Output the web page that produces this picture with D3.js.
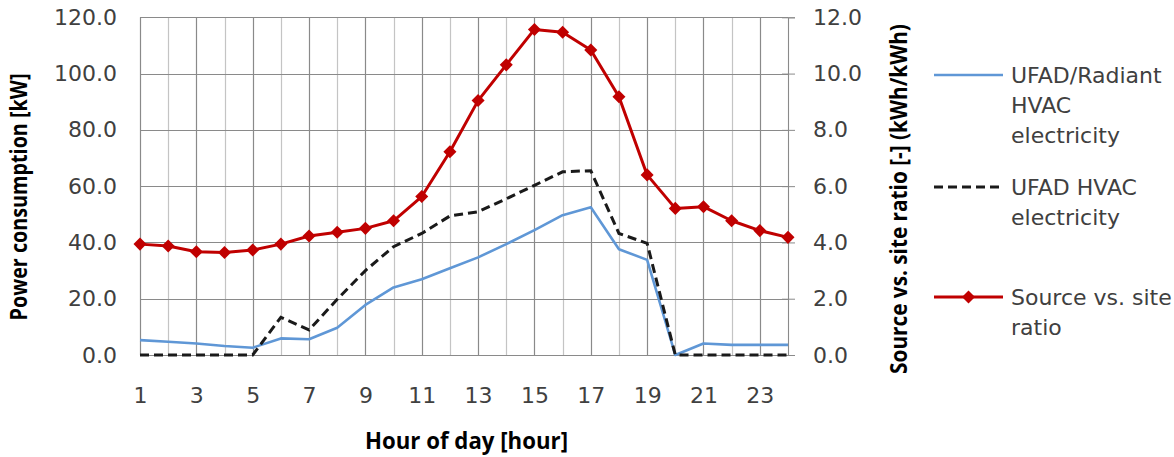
<!DOCTYPE html>
<html><head><meta charset="utf-8">
<script src="https://cdn.jsdelivr.net/npm/d3@7"></script>
<style>body{margin:0;background:#fff}svg{display:block}</style>
</head><body><svg id="c" width="1174" height="457"></svg>
<script>
const hours = [1,2,3,4,5,6,7,8,9,10,11,12,13,14,15,16,17,18,19,20,21,22,23,24];
const radiantHVAC = [5.3,4.7,4.1,3.2,2.6,5.9,5.6,9.7,17.8,24.0,26.9,30.8,34.7,39.4,44.4,49.7,52.5,37.6,33.8,0.0,4.1,3.6,3.6,3.6];
const ufadHVAC = [0,0,0,0,0,13.4,8.9,19.8,30.0,38.5,43.2,49.4,50.9,55.5,60.3,65.1,65.5,43.2,39.7,0,0,0,0,0];
const sourceSiteRatio = [3.94,3.87,3.67,3.64,3.73,3.94,4.23,4.36,4.50,4.77,5.63,7.22,9.04,10.31,11.57,11.47,10.84,9.18,6.40,5.21,5.27,4.77,4.42,4.18];
const leftTicks = [0,20,40,60,80,100,120];
const rightTicks = [0,2,4,6,8,10,12];
const xTickLabels = [1,3,5,7,9,11,13,15,17,19,21,23];
const legendRadiant = ["UFAD/Radiant","HVAC","electricity"];
const legendUfad = ["UFAD HVAC","electricity"];
const legendRatio = ["Source vs. site","ratio"];
const xTitle = "Hour of day [hour]";
const yLeftTitle = "Power consumption [kW]";
const yRightTitle = "Source vs. site ratio [-] (kWh/kWh)";

const svg = d3.select("#c");
const L = 140, R = 788, T = 17.3, B = 355;
const x = d3.scaleLinear().domain([1,24]).range([L,R]);
const yL = d3.scaleLinear().domain([0,120]).range([B,T]);
const yR = d3.scaleLinear().domain([0,12]).range([B,T]);
const tickFont = "'DejaVu Sans', sans-serif";
const txtCol = "#404040";

// gridlines
const g = svg.append("g");
g.selectAll("line.v").data(hours).join("line")
  .attr("x1", d => Math.round(x(d))+0.5).attr("x2", d => Math.round(x(d))+0.5)
  .attr("y1", T).attr("y2", B)
  .attr("stroke", d => d % 2 === 1 ? "#8a8a8a" : "#c4c4c4").attr("stroke-width", 1.2);
g.selectAll("line.h").data(leftTicks).join("line")
  .attr("x1", L).attr("x2", R)
  .attr("y1", d => Math.round(yL(d))+0.5).attr("y2", d => Math.round(yL(d))+0.5)
  .attr("stroke", "#8a8a8a").attr("stroke-width", 1.2);

// left axis
const ax = svg.append("g").attr("transform", `translate(${L},0)`)
  .call(d3.axisLeft(yL).tickValues(leftTicks).tickSize(0).tickPadding(23).tickFormat(d3.format(".1f")));
ax.select(".domain").attr("stroke", "#8a8a8a");
ax.selectAll("text").attr("font-family", tickFont).attr("font-size", 22).attr("fill", txtCol);

// right axis
const ar = svg.append("g").attr("transform", `translate(${R},0)`)
  .call(d3.axisRight(yR).tickValues(rightTicks).tickSize(7).tickPadding(18).tickFormat(d3.format(".1f")));
ar.select(".domain").attr("stroke", "#8a8a8a");
ar.selectAll(".tick line").attr("x1", -6).attr("stroke", "#8a8a8a");
ar.selectAll("text").attr("font-family", tickFont).attr("font-size", 22).attr("fill", txtCol);

// bottom axis
const ab = svg.append("g").attr("transform", `translate(0,${B})`)
  .call(d3.axisBottom(x).tickValues(xTickLabels).tickSize(0).tickPadding(32).tickFormat(d3.format("d")));
ab.select(".domain").attr("stroke", "#8a8a8a");
ab.selectAll("text").attr("font-family", tickFont).attr("font-size", 22).attr("fill", txtCol);

// series
const lineL = d3.line().x((d,i) => x(hours[i])).y(d => yL(d));
const lineR = d3.line().x((d,i) => x(hours[i])).y(d => yR(d));
svg.append("path").datum(radiantHVAC).attr("d", lineL).attr("fill","none")
  .attr("stroke","#5f97d6").attr("stroke-width",2.6).attr("stroke-linejoin","round");
svg.append("path").datum(ufadHVAC).attr("d", lineL).attr("fill","none")
  .attr("stroke","#1a1a1a").attr("stroke-width",3).attr("stroke-dasharray","9,5");
svg.append("path").datum(sourceSiteRatio).attr("d", lineR).attr("fill","none")
  .attr("stroke","#c00000").attr("stroke-width",3).attr("stroke-linejoin","round");
const diamond = d3.symbol(d3.symbolSquare, 85);
svg.selectAll("path.mk").data(sourceSiteRatio).join("path")
  .attr("d", diamond)
  .attr("transform", (d,i) => `translate(${x(hours[i])},${yR(d)}) rotate(45)`)
  .attr("fill","#c00000");

// axis titles: fit natural width to target, keep glyph height via local y-scale
const titleFont = "'Open Sans', 'DejaVu Sans', sans-serif";
function fittedTitle(txt, cx, cy, rot, target) {
  const base = 23;
  const t = svg.append("text").text(txt).attr("text-anchor","middle")
    .attr("font-family", titleFont).attr("font-weight",700).attr("font-size",base).attr("fill","#000");
  const len = t.node().getComputedTextLength();
  const fs = base * target / len;
  t.attr("font-size", fs)
   .attr("transform", `translate(${cx},${cy}) rotate(${rot}) scale(1,${base/fs})`);
}
fittedTitle(xTitle, 466.5, 449, 0, 203);
fittedTitle(yLeftTitle, 27, 197, -90, 247);
fittedTitle(yRightTitle, 907, 199, -90, 350);

// legend
const lg = svg.append("g");
const lx1 = 934, lx2 = 1003, tx = 1011;
function legendText(lines, y0) {
  lines.forEach((t,i) => lg.append("text").text(t).attr("x", tx).attr("y", y0 + i*30)
    .attr("font-family", tickFont).attr("font-size", 22).attr("fill", txtCol));
}
lg.append("line").attr("x1",lx1).attr("x2",lx2).attr("y1",75).attr("y2",75).attr("stroke","#5f97d6").attr("stroke-width",2.6);
legendText(legendRadiant, 83);
lg.append("line").attr("x1",lx1).attr("x2",lx2).attr("y1",187).attr("y2",187).attr("stroke","#1a1a1a").attr("stroke-width",3).attr("stroke-dasharray","9,5");
legendText(legendUfad, 195);
lg.append("line").attr("x1",lx1).attr("x2",lx2).attr("y1",297).attr("y2",297).attr("stroke","#c00000").attr("stroke-width",3);
lg.append("path").attr("d", diamond).attr("transform", `translate(${(lx1+lx2)/2},297) rotate(45)`).attr("fill","#c00000");
legendText(legendRatio, 305);
</script></body></html>
